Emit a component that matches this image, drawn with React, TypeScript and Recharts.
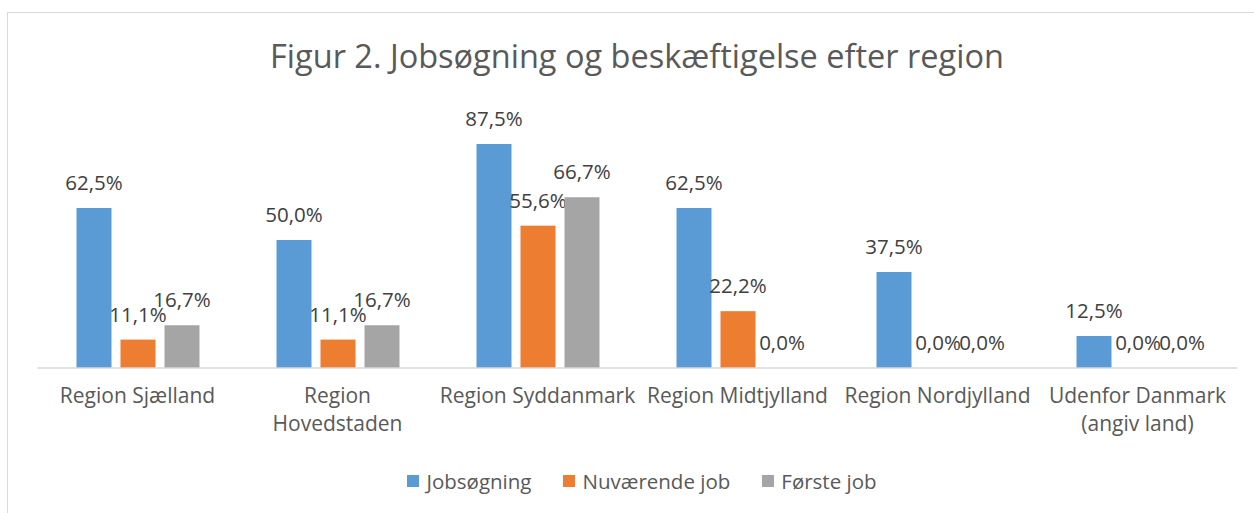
import { BarChart, Bar, XAxis, YAxis } from 'recharts'

const categories = [
  'Region Sjælland',
  'Region Hovedstaden',
  'Region Syddanmark',
  'Region Midtjylland',
  'Region Nordjylland',
  'Udenfor Danmark (angiv land)',
]

// how Excel wrapped the axis labels
const tickLines = [
  ['Region Sjælland'],
  ['Region', 'Hovedstaden'],
  ['Region Syddanmark'],
  ['Region Midtjylland'],
  ['Region Nordjylland'],
  ['Udenfor Danmark', '(angiv land)'],
]

const jobsogning = [62.5, 50.0, 87.5, 62.5, 37.5, 12.5]
const nuvaerende = [11.1, 11.1, 55.6, 22.2, 0.0, 0.0]
const forste = [16.7, 16.7, 66.7, 0.0, 0.0, 0.0]

const series = [
  { key: 'jobsogning', name: 'Jobsøgning', color: '#5B9BD5' },
  { key: 'nuvaerende', name: 'Nuværende job', color: '#ED7D31' },
  { key: 'forste', name: 'Første job', color: '#A5A5A5' },
]

const data = categories.map((c, i) => ({
  name: c,
  jobsogning: jobsogning[i],
  nuvaerende: nuvaerende[i],
  forste: forste[i],
}))

const FONT = '"Open Sans", sans-serif'

function fmt(v: number) {
  return v.toFixed(1).replace('.', ',') + '%'
}

function CategoryTick(props: any) {
  const { x, y, index } = props
  const lines = tickLines[index] || []
  return (
    <g>
      {lines.map((line, i) => (
        <text
          key={i}
          x={x}
          y={y + 27 + i * 28}
          textAnchor="middle"
          fill="#595959"
          fontSize={21}
          fontFamily={FONT}
        >
          {line}
        </text>
      ))}
    </g>
  )
}

// bar plus its value label, so zero-height bars still get "0,0%"
function BarWithLabel(props: any) {
  const { x, y, width, height, fill, value } = props
  const v = Array.isArray(value) ? value[1] - value[0] : value
  return (
    <g>
      {height > 0 && (
        <rect x={x} y={y} width={width} height={height} fill={fill} />
      )}
      <text
        x={x + width / 2}
        y={y - 18}
        textAnchor="middle"
        fill="#404040"
        fontSize={20.5}
        fontFamily={FONT}
      >
        {fmt(v)}
      </text>
    </g>
  )
}

function ChartLegend() {
  return (
    <div
      style={{
        position: 'absolute',
        left: 0,
        top: 467,
        width: 1284,
        display: 'flex',
        justifyContent: 'center',
        fontFamily: FONT,
        fontSize: 20.5,
        color: '#595959',
      }}
    >
      {series.map((s) => (
        <div
          key={s.key}
          style={{ display: 'flex', alignItems: 'center', margin: '0 16px' }}
        >
          <span
            style={{
              width: 12,
              height: 12,
              background: s.color,
              display: 'inline-block',
              marginRight: 7,
            }}
          />
          {s.name}
        </div>
      ))}
    </div>
  )
}

export default function App() {
  return (
    <div
      style={{
        position: 'absolute',
        left: 0,
        top: 0,
        width: 1254,
        height: 513,
        background: '#fff',
        overflow: 'hidden',
      }}
    >
      <div
        style={{
          position: 'absolute',
          left: 7,
          top: 12,
          width: 1270,
          height: 520,
          border: '1.5px solid #D9D9D9',
          boxSizing: 'border-box',
        }}
      />
      <div
        style={{
          position: 'absolute',
          left: 0,
          top: 33,
          width: 1274,
          textAlign: 'center',
          fontFamily: FONT,
          fontSize: 32.5,
          lineHeight: 'normal',
          color: '#595959',
        }}
      >
        Figur 2. Jobsøgning og beskæftigelse efter region
      </div>
      <div style={{ position: 'absolute', left: 0, top: 0 }}>
        <BarChart
          width={1254}
          height={513}
          data={data}
          margin={{ top: 112, right: 16.5, left: 37.5, bottom: 85 }}
          barSize={35}
          barGap={9}
        >
          <XAxis
            dataKey="name"
            height={60}
            axisLine={{ stroke: '#D9D9D9', strokeWidth: 1.5 }}
            tickLine={false}
            tick={<CategoryTick />}
            interval={0}
          />
          <YAxis hide domain={[0, 100]} />
          {series.map((s) => (
            <Bar
              key={s.key}
              dataKey={s.key}
              name={s.name}
              fill={s.color}
              shape={<BarWithLabel />}
              isAnimationActive={false}
            />
          ))}
        </BarChart>
      </div>
      <ChartLegend />
    </div>
  )
}
